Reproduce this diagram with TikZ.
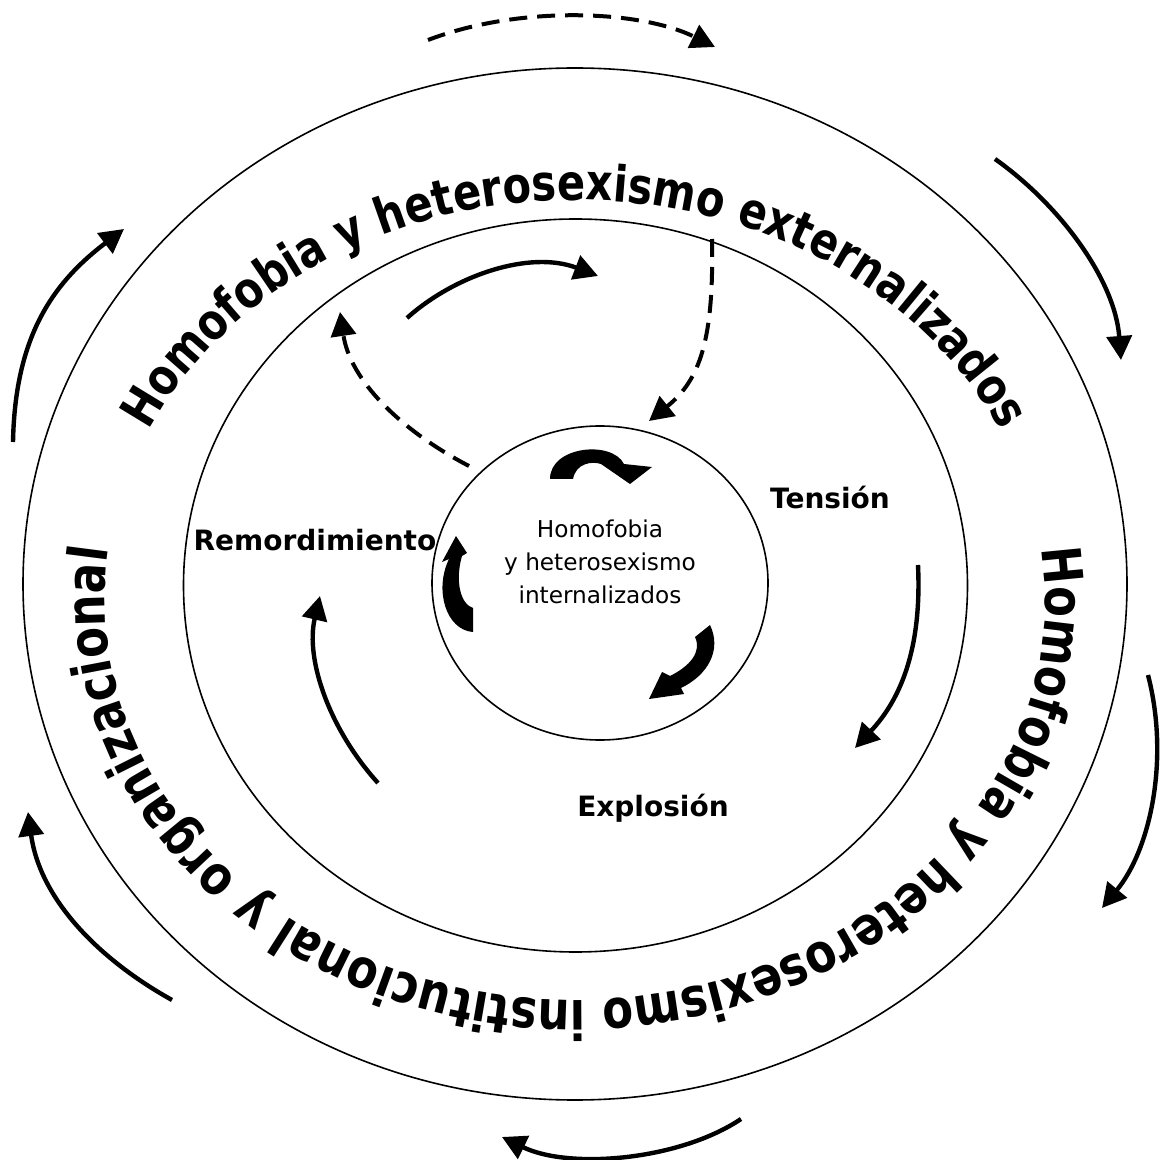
\documentclass[tikz,border=0pt]{standalone}
\usepackage{fontspec}
\setmainfont{DejaVu Sans}
\usetikzlibrary{arrows.meta,decorations.text}
\tikzset{>={Triangle[length=12pt,width=12.5pt]}}
\tikzset{
  ring/.style={line width=0.8pt},
  flow/.style={line width=2.2pt,->},
  dflow/.style={line width=2pt,->,dash pattern=on 9pt off 5pt},
  stage/.style={font=\bfseries\fontsize{14}{17}\selectfont,inner sep=0pt},
  core/.style={align=center,font=\fontsize{11.6}{16.5}\selectfont,inner sep=0pt}
}
\newcommand\toptext{\bfseries\fontsize{20.8}{25}\selectfont}
\newcommand\bottext{\bfseries\fontsize{22.5}{27}\selectfont}

\begin{document}
\begin{tikzpicture}[x=0.5pt,y=-0.5pt]
            \useasboundingbox (0,0) rectangle (1163,1160);

            \draw[ring] (575,584) ellipse [x radius=552,y radius=516];
            \draw[ring] (575.5,585.5) ellipse [x radius=392,y radius=366.5];
            \draw[ring] (600,583) ellipse [x radius=168,y radius=157];

            \path[decorate,decoration={text effects along path,text align=center,
                text={Homofobia y heterosexismo externalizados},
                text effects/.cd,text along path,characters={font=\toptext,inner sep=0pt,transform shape,yscale=1.2}}]
                (575,600) ++(-170:470 and 400) arc[start angle=-170,end angle=-10,x radius=470,y radius=400];
            \path[decorate,decoration={text effects along path,text align=center,
                text={Homofobia y heterosexismo institucional y organizacional},
                text effects/.cd,text along path,characters={font=\bottext,inner sep=0pt,transform shape,yscale=1.2}}]
                (575,600) ++(-15:470 and 400) arc[start angle=-15,end angle=195,x radius=470,y radius=400];

            \node[core] (internal) at (600,562) {Homofobia\\y heterosexismo\\internalizados};
            \node[stage] (tension) at (830,498) {Tensión};
            \node[stage] (explosion) at (653,808) {Explosión};
            \node[stage] (remorse) at (315,540) {Remordimiento};

            \draw[dflow] (428,40) .. controls (520,5) and (640,10) .. (715,47);
            \draw[flow] (995,159) .. controls (1060,205) and (1115,280) .. (1121,360);
            \draw[flow] (1148,675) .. controls (1170,760) and (1150,850) .. (1102,908);
            \draw[flow] (741,1119) .. controls (680,1160) and (570,1170) .. (502,1137);
            \draw[flow] (172,1000) .. controls (100,960) and (40,900) .. (28,812);
            \draw[flow] (13,442) .. controls (15,340) and (50,285) .. (124,229);

            \draw[flow] (407,318) .. controls (455,275) and (530,250) .. (598,276);
            \draw[dflow] (469,466) .. controls (400,430) and (350,380) .. (340,312);
            \draw[dflow] (712,239) .. controls (714,340) and (700,380) .. (649,421);
            \draw[flow] (918,565) .. controls (922,650) and (900,700) .. (855,748);
            \draw[flow] (378,783) .. controls (330,730) and (305,660) .. (320,596);

            \fill (550,479) .. controls (550,446) and (612,440) .. (624,464) -- (652,467) -- (630,484)
                -- (601,464) .. controls (592,461) and (576,463) .. (573,479) -- cycle;
            \fill (473,632) .. controls (446,630) and (434,590) .. (449,559) -- (442,562) -- (456,536)
                -- (467,553) -- (462,556) .. controls (455,580) and (460,604) .. (473,608) -- cycle;
            \fill (710,625) .. controls (722,650) and (708,675) .. (681,688) -- (684,694) -- (649,699)
                -- (662,672) -- (670,676) .. controls (690,666) and (702,652) .. (695,637) -- cycle;
\end{tikzpicture}
\end{document}
